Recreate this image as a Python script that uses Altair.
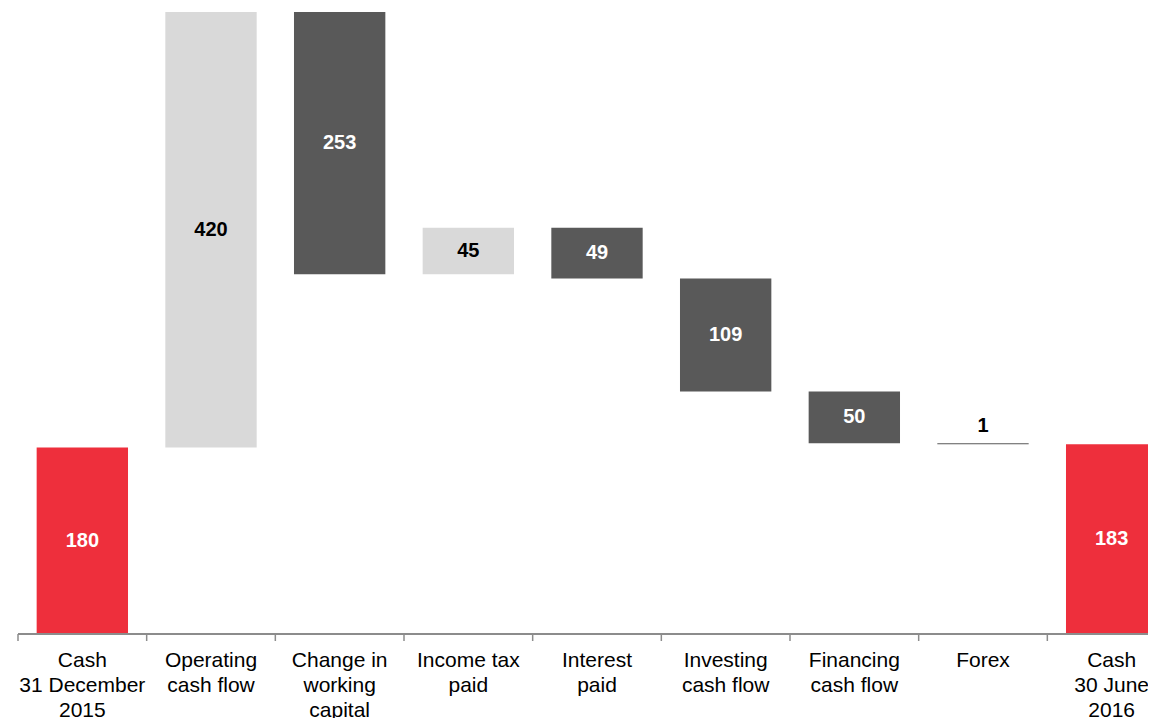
import altair as alt
import pandas as pd

categories = [
    "Cash\n31 December\n2015",
    "Operating\ncash flow",
    "Change in\nworking\ncapital",
    "Income tax\npaid",
    "Interest\npaid",
    "Investing\ncash flow",
    "Financing\ncash flow",
    "Forex",
    "Cash\n30 June\n2016",
]
values = [180, 420, -253, 45, -49, -109, -50, -1, 183]
kinds = ["total", "up", "down", "up", "down", "down", "down", "down", "total"]

rows = []
running = 0
for i, (c, v, k) in enumerate(zip(categories, values, kinds)):
    if k == "total":
        start, end = 0, v
        running = v
    else:
        start = running
        end = running + v
        running = end
    rows.append({"cat": c, "value": v, "kind": k, "start": start, "end": end,
                 "mid": (start + end) / 2, "top": max(start, end),
                 "label": str(abs(v)), "order": i})
df = pd.DataFrame(rows)

FONT = "Liberation Sans"
W, H = 1130, 622

xscale = alt.Scale(paddingInner=0, paddingOuter=0, range=[0, 1158])
x = alt.X("cat:N", sort=categories, title=None, scale=xscale,
          axis=alt.Axis(labelAngle=0, labelExpr="split(datum.label, '\\n')",
                        labelFont=FONT, labelFontSize=21, labelLineHeight=25,
                        labelColor="#000000", labelBaseline="top", labelPadding=15,
                        ticks=False, domain=False, labelLimit=300))

yscale = alt.Scale(domain=[0, 600], nice=False, zero=True)

color = alt.Color("kind:N", legend=None,
                  scale=alt.Scale(domain=["total", "up", "down"],
                                  range=["#EE2F3C", "#D9D9D9", "#595959"]))

bars = alt.Chart(df).mark_bar(width=alt.RelativeBandSize(0.71)).encode(
    x=x,
    y=alt.Y("start:Q", scale=yscale, axis=None),
    y2="end:Q",
    color=color,
)

ticks = alt.Chart(df).mark_rule(color="#8C8C8C", strokeWidth=1.5).encode(
    x=alt.X("cat:N", sort=categories, bandPosition=0),
    y=alt.value(H),
    y2=alt.value(H + 7),
)

baseline = alt.Chart(df).mark_rule(color="#8C8C8C", strokeWidth=1.5).encode(
    x=alt.value(0), x2=alt.value(W + 10), y=alt.value(H),
)

inner = alt.Chart(df).transform_filter("abs(datum.value) >= 10").mark_text(
    font=FONT, fontSize=20, fontWeight="bold", baseline="middle"
).encode(
    x=alt.X("cat:N", sort=categories),
    y=alt.Y("mid:Q", scale=yscale),
    text="label:N",
    color=alt.Color("kind:N", legend=None,
                    scale=alt.Scale(domain=["total", "up", "down"],
                                    range=["#FFFFFF", "#000000", "#FFFFFF"])),
)

above = alt.Chart(df).transform_filter("abs(datum.value) < 10").mark_text(
    font=FONT, fontSize=20, fontWeight="bold", baseline="bottom", dy=-7, color="#000000"
).encode(
    x=alt.X("cat:N", sort=categories),
    y=alt.Y("top:Q", scale=yscale),
    text="label:N",
)

chart = alt.layer(bars, baseline, ticks, inner, above).resolve_scale(color="independent").properties(
    width=W, height=H,
    autosize=alt.AutoSizeParams(type="none"),
    padding={"left": 10, "top": 4, "right": 0, "bottom": 84},
    background="#FFFFFF",
).configure_view(stroke=None)

chart.save("out.html", embed_options={"renderer": "svg", "actions": False})
